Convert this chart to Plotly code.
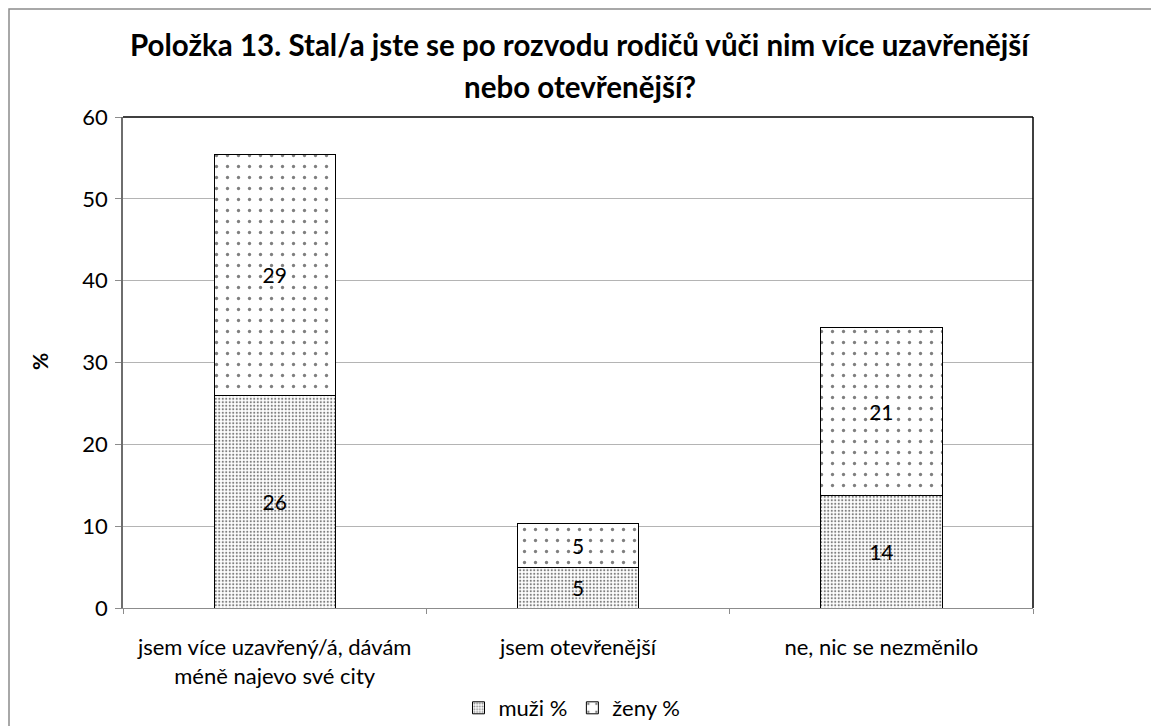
import plotly.graph_objects as go

categories = ["jsem více uzavřený/á, dávám<br>méně najevo své city", "jsem otevřenější", "ne, nic se nezměnilo"]
muzi = [26.0, 4.9, 13.7]
zeny = [29.4, 5.4, 20.6]
series_names = ["muži %", "ženy %"]
y_ticks = [0, 10, 20, 30, 40, 50, 60]

FONT = "Lato, Calibri, 'Open Sans', sans-serif"

fig = go.Figure()
fig.add_trace(go.Bar(
    x=categories, y=muzi, name=series_names[0],
    marker=dict(color="white", line=dict(color="black", width=1),
                pattern=dict(shape=".", size=3.5, solidity=0.3, fgcolor="black", bgcolor="white", fillmode="overlay")),
    texttemplate="%{y:.0f}", textposition="inside", insidetextanchor="middle",
    textfont=dict(size=21, color="black", family=FONT),
))
fig.add_trace(go.Bar(
    x=categories, y=zeny, name=series_names[1],
    marker=dict(color="white", line=dict(color="black", width=1),
                pattern=dict(shape=".", size=11, solidity=0.07, fgcolor="black", bgcolor="white", fillmode="overlay")),
    texttemplate="%{y:.0f}", textposition="inside", insidetextanchor="middle",
    textfont=dict(size=21, color="black", family=FONT),
))

OFF = 8  # page body offset
L, R, T, B = 123, 1033, 117, 608  # plot area in window pixels
W, H = 1159, 726

def px(x):
    return (x - L) / (R - L)

def py(y):
    return (B - y) / (B - T)

fig.update_layout(
    width=W, height=H,
    margin=dict(l=L - OFF, r=W - (R - OFF), t=T - OFF, b=H - (B - OFF), autoexpand=False),
    barmode="stack", bargap=0.6,
    plot_bgcolor="white", paper_bgcolor="white",
    font=dict(family=FONT, size=22, color="black"),
    showlegend=True,
    legend=dict(orientation="h", xref="container", yref="container", x=(572 - OFF) / W, xanchor="center",
                y=1 - (708 - OFF) / H, yanchor="middle",
                font=dict(size=22), traceorder="normal", itemwidth=30),
    xaxis=dict(automargin=False, showline=True, linecolor="#8c8c8c", linewidth=1, ticks="outside",
               tickson="boundaries", ticklen=5, tickcolor="#8c8c8c", showgrid=False,
               tickfont=dict(size=22), ticklabelstandoff=20),
    yaxis=dict(automargin=False, range=[0, 60], tickvals=y_ticks, showline=True, linecolor="#6e6e6e",
               linewidth=1.5, ticks="outside", ticklen=6, tickcolor="#8c8c8c", showgrid=True,
               gridcolor="#b4b4b4", gridwidth=1, zeroline=False, tickfont=dict(size=22),
               ticklabelstandoff=3),
    annotations=[
        dict(text="<b>Položka 13. Stal/a jste se po rozvodu rodičů vůči nim více uzavřenější</b>",
             x=px(580), y=py(45), xref="paper", yref="paper", showarrow=False,
             font=dict(size=29.5), xanchor="center", yanchor="middle"),
        dict(text="<b>nebo otevřenější?</b>",
             x=px(580), y=py(86), xref="paper", yref="paper", showarrow=False,
             font=dict(size=29.5), xanchor="center", yanchor="middle"),
        dict(text="<b>%</b>", textangle=-90, x=px(39), y=py(362), xref="paper", yref="paper",
             showarrow=False, font=dict(size=21), xanchor="center", yanchor="middle"),
    ],
    shapes=[
        dict(type="line", xref="paper", yref="paper", x0=0, x1=1, y0=1, y1=1, line=dict(color="black", width=1.5)),
        dict(type="line", xref="paper", yref="paper", x0=1, x1=1, y0=0, y1=1, line=dict(color="black", width=1.5)),
        dict(type="rect", xref="paper", yref="paper", x0=px(OFF + 1), x1=px(1185), y0=py(760), y1=py(OFF + 1),
             line=dict(color="#8c8c8c", width=1.5), layer="below"),
    ],
)

fig.write_html("out.html")
